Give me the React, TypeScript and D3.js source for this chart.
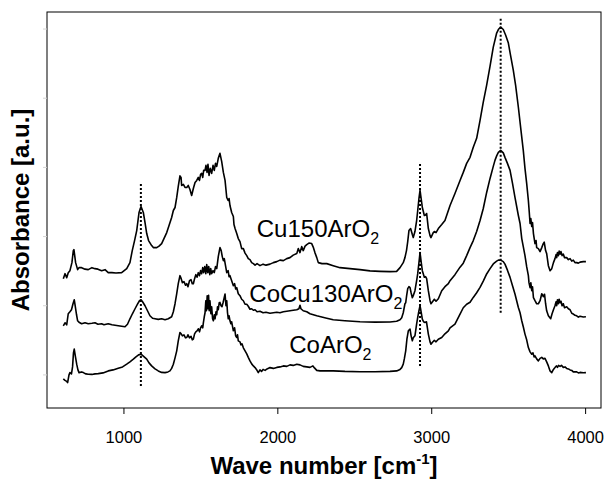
import React from "react";
import * as d3 from "d3";

// Wave number range and tick labels
const xDomain = [500, 4100];
const yDomain = [0, 3.95];
const xTicks = [1000, 2000, 3000, 4000];
const yMinorTicks = [0.33, 1.02, 1.71, 2.4, 3.09, 3.78];

// Cu150ArO2 spectrum [wave number, absorbance a.u.]
const cu150: [number, number][] = [
  [606, 1.29], [617, 1.34], [628, 1.3], [638, 1.35], [649, 1.37], [662, 1.45], [671, 1.57], [675, 1.58], [686, 1.45], [699, 1.38], [708, 1.4],
  [725, 1.4], [747, 1.385], [768, 1.38], [792, 1.4], [812, 1.39], [831, 1.385], [855, 1.37], [877, 1.38], [898, 1.35], [922, 1.35],
  [948, 1.347], [985, 1.35], [1018, 1.39], [1039, 1.45], [1054, 1.57], [1069, 1.67], [1083, 1.77], [1098, 1.95], [1111, 2.01],
  [1126, 1.95], [1137, 1.85], [1148, 1.74], [1160, 1.67], [1180, 1.62], [1191, 1.6], [1213, 1.6], [1228, 1.615], [1245, 1.64],
  [1260, 1.69], [1278, 1.75], [1293, 1.82], [1310, 1.9], [1321, 1.97], [1332, 2.0], [1343, 2.1], [1353, 2.21], [1364, 2.315],
  [1371, 2.3], [1375, 2.22], [1386, 2.23], [1397, 2.2], [1408, 2.2], [1418, 2.22], [1429, 2.18], [1440, 2.12], [1451, 2.19],
  [1462, 2.25], [1473, 2.27], [1483, 2.3], [1491, 2.27], [1498, 2.33], [1505, 2.34], [1512, 2.3], [1518, 2.37], [1527, 2.37],
  [1533, 2.42], [1540, 2.35], [1546, 2.43], [1553, 2.32], [1561, 2.39], [1570, 2.34], [1579, 2.42], [1587, 2.37], [1595, 2.44],
  [1603, 2.41], [1613, 2.49], [1624, 2.54], [1635, 2.46], [1646, 2.35], [1657, 2.27], [1668, 2.1], [1677, 2.07], [1683, 2.09],
  [1689, 2.02], [1700, 1.95], [1711, 1.91], [1715, 1.83], [1722, 1.79], [1733, 1.74], [1743, 1.69], [1754, 1.66], [1765, 1.59],
  [1776, 1.59], [1787, 1.545], [1798, 1.52], [1808, 1.49], [1819, 1.48], [1830, 1.45], [1841, 1.44], [1852, 1.425], [1865, 1.44],
  [1884, 1.42], [1904, 1.435], [1923, 1.425], [1949, 1.435], [1971, 1.45], [1993, 1.46], [2014, 1.475], [2036, 1.47], [2058, 1.49],
  [2079, 1.5], [2100, 1.525], [2123, 1.54], [2133, 1.59], [2144, 1.55], [2155, 1.61], [2165, 1.57], [2177, 1.615], [2188, 1.63],
  [2202, 1.645], [2220, 1.64], [2230, 1.605], [2241, 1.55], [2253, 1.5], [2263, 1.45], [2287, 1.44], [2318, 1.44], [2360, 1.42],
  [2404, 1.4], [2469, 1.39], [2534, 1.38], [2599, 1.368], [2664, 1.363], [2729, 1.36], [2772, 1.363], [2794, 1.4], [2815, 1.45],
  [2826, 1.5], [2836, 1.57], [2844, 1.66], [2852, 1.77], [2863, 1.79], [2874, 1.73], [2880, 1.7], [2891, 1.76], [2902, 1.87],
  [2909, 1.97], [2917, 2.09], [2924, 2.17], [2932, 2.08], [2939, 2.0], [2952, 1.92], [2960, 1.925], [2967, 1.94], [2978, 1.79],
  [2989, 1.72], [2995, 1.7], [3010, 1.75], [3017, 1.76], [3028, 1.75], [3043, 1.79], [3065, 1.83], [3086, 1.87], [3119, 2.02],
  [3151, 2.14], [3184, 2.27], [3205, 2.35], [3227, 2.44], [3249, 2.5], [3270, 2.6], [3292, 2.69], [3314, 2.87], [3335, 3.05],
  [3357, 3.22], [3379, 3.41], [3400, 3.6], [3422, 3.74], [3433, 3.775], [3448, 3.8], [3465, 3.775], [3480, 3.72], [3498, 3.64],
  [3512, 3.52], [3530, 3.37], [3545, 3.22], [3563, 3.0], [3580, 2.77], [3595, 2.57], [3606, 2.39], [3617, 2.24], [3628, 2.07],
  [3634, 1.95], [3639, 1.84], [3644, 1.89], [3650, 1.81], [3655, 1.85], [3661, 1.74], [3671, 1.64], [3678, 1.67], [3682, 1.6],
  [3693, 1.59], [3704, 1.56], [3715, 1.6], [3725, 1.64], [3731, 1.655], [3740, 1.57], [3747, 1.54], [3758, 1.42], [3769, 1.37],
  [3780, 1.39], [3791, 1.45], [3801, 1.49], [3808, 1.53], [3812, 1.5], [3817, 1.55], [3823, 1.52], [3828, 1.565], [3834, 1.535],
  [3840, 1.56], [3847, 1.52], [3855, 1.535], [3863, 1.5], [3877, 1.5], [3888, 1.48], [3899, 1.49], [3910, 1.465], [3920, 1.475],
  [3931, 1.45], [3942, 1.45], [3953, 1.445], [3964, 1.455], [3985, 1.46], [4002, 1.46],
];

// CoCu130ArO2 spectrum
const cocu130: [number, number][] = [
  [606, 0.82], [617, 0.85], [628, 0.83], [638, 0.94], [649, 0.96], [659, 0.98], [669, 1.04], [677, 1.08], [683, 1.02], [692, 0.93],
  [699, 0.87], [708, 0.855], [725, 0.84], [747, 0.85], [768, 0.84], [792, 0.845], [812, 0.85], [831, 0.835], [855, 0.84], [870, 0.83],
  [898, 0.84], [922, 0.83], [963, 0.82], [1007, 0.81], [1023, 0.835], [1039, 0.89], [1055, 0.94], [1072, 0.99], [1088, 1.035],
  [1101, 1.07], [1111, 1.08], [1121, 1.06], [1137, 1.02], [1153, 0.97], [1169, 0.92], [1186, 0.895], [1202, 0.89], [1223, 0.884],
  [1245, 0.89], [1267, 0.88], [1288, 0.89], [1310, 0.91], [1321, 0.96], [1332, 1.04], [1343, 1.14], [1353, 1.24], [1364, 1.32],
  [1372, 1.29], [1380, 1.25], [1390, 1.26], [1400, 1.225], [1408, 1.24], [1416, 1.21], [1426, 1.27], [1436, 1.28], [1444, 1.24],
  [1451, 1.24], [1459, 1.29], [1467, 1.33], [1475, 1.305], [1483, 1.35], [1491, 1.32], [1498, 1.37], [1505, 1.34], [1512, 1.4],
  [1518, 1.35], [1525, 1.41], [1532, 1.34], [1538, 1.43], [1545, 1.35], [1551, 1.41], [1558, 1.33], [1564, 1.39], [1570, 1.34],
  [1579, 1.37], [1587, 1.35], [1595, 1.41], [1603, 1.39], [1613, 1.51], [1624, 1.6], [1632, 1.57], [1639, 1.51], [1646, 1.47],
  [1652, 1.49], [1660, 1.42], [1668, 1.35], [1677, 1.37], [1683, 1.31], [1689, 1.32], [1700, 1.27], [1711, 1.22], [1719, 1.24],
  [1726, 1.187], [1733, 1.2], [1743, 1.14], [1754, 1.12], [1765, 1.085], [1776, 1.07], [1787, 1.035], [1798, 1.035], [1808, 1.015],
  [1819, 0.985], [1830, 0.99], [1841, 0.975], [1852, 0.98], [1865, 0.96], [1884, 0.965], [1904, 0.95], [1923, 0.955], [1949, 0.945],
  [1971, 0.95], [1993, 0.955], [2014, 0.95], [2036, 0.96], [2058, 0.965], [2079, 0.97], [2100, 0.975], [2123, 0.98], [2137, 0.99],
  [2144, 1.025], [2150, 0.99], [2165, 0.97], [2188, 0.96], [2209, 0.94], [2253, 0.92], [2318, 0.895], [2360, 0.88], [2436, 0.87],
  [2534, 0.86], [2631, 0.857], [2729, 0.858], [2772, 0.865], [2794, 0.88], [2805, 0.9], [2815, 0.95], [2826, 1.04], [2831, 1.05],
  [2837, 1.12], [2844, 1.19], [2852, 1.21], [2859, 1.2], [2866, 1.15], [2874, 1.1], [2880, 1.12], [2891, 1.17], [2902, 1.27],
  [2909, 1.34], [2917, 1.45], [2924, 1.55], [2932, 1.45], [2939, 1.37], [2952, 1.305], [2960, 1.31], [2967, 1.29], [2978, 1.17],
  [2989, 1.07], [2995, 1.04], [3005, 1.06], [3017, 1.085], [3028, 1.065], [3043, 1.09], [3065, 1.17], [3086, 1.21], [3108, 1.24],
  [3119, 1.27], [3151, 1.33], [3184, 1.405], [3205, 1.445], [3227, 1.52], [3249, 1.6], [3270, 1.67], [3292, 1.76], [3314, 1.87],
  [3335, 1.99], [3357, 2.15], [3379, 2.29], [3400, 2.41], [3411, 2.47], [3422, 2.515], [3433, 2.55], [3448, 2.57], [3465, 2.545],
  [3476, 2.5], [3492, 2.44], [3509, 2.37], [3525, 2.24], [3541, 2.1], [3563, 1.92], [3574, 1.84], [3585, 1.69], [3595, 1.61],
  [3606, 1.52], [3617, 1.41], [3628, 1.32], [3632, 1.25], [3639, 1.2], [3644, 1.25], [3650, 1.17], [3655, 1.21], [3661, 1.1],
  [3671, 1.07], [3682, 1.04], [3693, 1.04], [3704, 1.07], [3715, 1.14], [3725, 1.11], [3733, 1.135], [3740, 1.04], [3747, 0.97],
  [3758, 0.92], [3773, 0.89], [3782, 0.94], [3791, 0.98], [3801, 1.02], [3808, 1.06], [3812, 1.02], [3817, 1.08], [3823, 1.04],
  [3828, 1.085], [3834, 1.05], [3840, 1.065], [3847, 1.02], [3855, 1.04], [3863, 1.0], [3877, 1.01], [3888, 0.99], [3899, 0.98],
  [3910, 0.945], [3920, 0.937], [3931, 0.925], [3942, 0.92], [3953, 0.907], [3964, 0.915], [3985, 0.908], [4002, 0.91],
];

// CoArO2 spectrum
const coAr: [number, number][] = [
  [606, 0.29], [617, 0.275], [628, 0.265], [634, 0.253], [643, 0.33], [649, 0.353], [659, 0.34], [666, 0.41], [672, 0.55], [677, 0.587],
  [685, 0.51], [693, 0.437], [701, 0.38], [708, 0.353], [725, 0.36], [736, 0.353], [753, 0.34], [768, 0.337], [792, 0.335], [812, 0.34],
  [833, 0.343], [864, 0.35], [898, 0.37], [929, 0.38], [963, 0.397], [991, 0.41], [1018, 0.437], [1039, 0.46], [1061, 0.487],
  [1078, 0.51], [1095, 0.53], [1111, 0.537], [1124, 0.52], [1148, 0.487], [1163, 0.45], [1180, 0.42], [1202, 0.39], [1223, 0.37],
  [1245, 0.355], [1267, 0.353], [1286, 0.36], [1299, 0.37], [1310, 0.395], [1321, 0.437], [1332, 0.5], [1343, 0.57], [1353, 0.67],
  [1364, 0.753], [1372, 0.74], [1380, 0.72], [1390, 0.73], [1400, 0.7], [1408, 0.703], [1416, 0.73], [1426, 0.7], [1436, 0.715],
  [1444, 0.68], [1451, 0.687], [1459, 0.74], [1467, 0.76], [1475, 0.77], [1483, 0.79], [1491, 0.76], [1498, 0.8], [1505, 0.82],
  [1512, 0.8], [1516, 0.85], [1522, 0.91], [1527, 0.95], [1532, 1.07], [1536, 0.97], [1541, 1.12], [1545, 0.99], [1550, 1.125],
  [1554, 0.97], [1559, 1.07], [1565, 0.94], [1570, 1.01], [1576, 0.89], [1581, 0.87], [1587, 0.93], [1592, 0.89], [1598, 0.96],
  [1603, 0.93], [1608, 1.01], [1613, 0.98], [1619, 1.05], [1624, 1.053], [1631, 1.02], [1637, 1.01], [1644, 1.05], [1650, 1.09],
  [1657, 1.137], [1663, 1.02], [1668, 1.07], [1673, 0.95], [1678, 0.89], [1683, 0.92], [1689, 0.87], [1695, 0.84], [1700, 0.86],
  [1711, 0.77], [1719, 0.8], [1726, 0.72], [1733, 0.703], [1738, 0.73], [1743, 0.67], [1754, 0.66], [1760, 0.63], [1767, 0.64],
  [1776, 0.6], [1787, 0.57], [1798, 0.54], [1808, 0.505], [1819, 0.47], [1830, 0.44], [1841, 0.42], [1852, 0.403], [1861, 0.385],
  [1873, 0.353], [1884, 0.38], [1894, 0.365], [1904, 0.385], [1917, 0.375], [1930, 0.39], [1949, 0.403], [1971, 0.395], [1993, 0.405],
  [2014, 0.41], [2036, 0.42], [2058, 0.415], [2079, 0.43], [2100, 0.425], [2123, 0.437], [2144, 0.43], [2165, 0.415], [2188, 0.41],
  [2209, 0.405], [2228, 0.42], [2238, 0.4], [2253, 0.375], [2274, 0.37], [2318, 0.37], [2360, 0.37], [2436, 0.365], [2534, 0.362],
  [2631, 0.362], [2729, 0.365], [2772, 0.37], [2794, 0.385], [2805, 0.403], [2815, 0.437], [2822, 0.49], [2831, 0.57], [2839, 0.69],
  [2848, 0.77], [2859, 0.787], [2866, 0.72], [2874, 0.67], [2880, 0.7], [2891, 0.72], [2902, 0.84], [2909, 0.903], [2917, 0.97],
  [2924, 1.02], [2932, 0.95], [2939, 0.887], [2947, 0.86], [2956, 0.853], [2966, 0.86], [2978, 0.737], [2989, 0.66], [2995, 0.637],
  [3008, 0.66], [3017, 0.675], [3028, 0.66], [3043, 0.685], [3065, 0.703], [3086, 0.74], [3108, 0.77], [3119, 0.8], [3151, 0.837],
  [3184, 0.937], [3205, 1.0], [3227, 1.035], [3249, 1.055], [3270, 1.103], [3292, 1.15], [3314, 1.203], [3335, 1.265], [3357, 1.337],
  [3379, 1.39], [3400, 1.437], [3422, 1.465], [3433, 1.475], [3448, 1.475], [3465, 1.46], [3476, 1.435], [3492, 1.375], [3509, 1.303],
  [3525, 1.22], [3541, 1.137], [3563, 1.003], [3574, 0.95], [3585, 0.87], [3595, 0.81], [3606, 0.737], [3617, 0.68], [3628, 0.603],
  [3639, 0.56], [3650, 0.537], [3658, 0.55], [3665, 0.51], [3671, 0.52], [3682, 0.49], [3693, 0.47], [3704, 0.495], [3715, 0.505],
  [3725, 0.49], [3736, 0.495], [3747, 0.46], [3758, 0.42], [3769, 0.37], [3780, 0.353], [3791, 0.385], [3801, 0.403], [3810, 0.42],
  [3817, 0.405], [3824, 0.425], [3834, 0.415], [3843, 0.425], [3855, 0.405], [3866, 0.41], [3877, 0.395], [3888, 0.39], [3899, 0.38],
  [3910, 0.375], [3920, 0.36], [3942, 0.36], [3953, 0.35], [3964, 0.355], [3985, 0.352], [4002, 0.353],
];

const spectra = [cu150, cocu130, coAr];

// Dotted marker lines: wave number, lower and upper absorbance
const markerWave = [1110, 2924, 3448];
const markerLow = [0.22, 0.42, 0.95];
const markerHigh = [2.24, 2.44, 3.89];

// Series labels: main text, subscript, anchor wave number, anchor absorbance
const labelMain = ["Cu150ArO", "CoCu130ArO", "CoArO"];
const labelSub = ["2", "2", "2"];
const labelWave = [1863, 1815, 2074];
const labelAbs = [1.703, 1.053, 0.553];

const W = 607;
const H = 480;
const M = { left: 47, top: 12, right: 601, bottom: 408 };
const FONT = "'Liberation Sans', Arial, Helvetica, sans-serif";

export default function App() {
  const x = d3.scaleLinear().domain(xDomain).range([M.left, M.right]);
  const y = d3.scaleLinear().domain(yDomain).range([M.bottom, M.top]);
  const line = d3
    .line<[number, number]>()
    .x((d) => x(d[0]))
    .y((d) => y(d[1]));

  return (
    <svg
      width={W}
      height={H}
      style={{ position: "absolute", left: 0, top: 0, background: "#fff" }}
      fontFamily={FONT}
    >
      <rect x={0} y={0} width={W} height={H} fill="#fff" />
      {markerWave.map((w, i) => (
        <line
          key={"m" + i}
          x1={x(w)}
          x2={x(w)}
          y1={y(markerLow[i])}
          y2={y(markerHigh[i])}
          stroke="#000"
          strokeWidth={2}
          strokeDasharray="2 2"
        />
      ))}
      {spectra.map((s, i) => (
        <path
          key={"s" + i}
          d={line(s) || ""}
          fill="none"
          stroke="#000"
          strokeWidth={1.6}
          strokeLinejoin="round"
        />
      ))}
      {labelMain.map((t, i) => (
        <text
          key={"l" + i}
          x={x(labelWave[i])}
          y={y(labelAbs[i])}
          fontSize={24}
          fill="#000"
        >
          {t}
          <tspan fontSize={16} dy={7}>
            {labelSub[i]}
          </tspan>
        </text>
      ))}
      <rect
        x={M.left}
        y={M.top}
        width={M.right - M.left}
        height={M.bottom - M.top}
        fill="none"
        stroke="#000"
        strokeWidth={1}
      />
      {yMinorTicks.map((t, i) => (
        <line
          key={"yt" + i}
          x1={M.left - 4}
          x2={M.left}
          y1={y(t)}
          y2={y(t)}
          stroke="#d4d4d4"
          strokeWidth={1}
        />
      ))}
      {xTicks.map((t) => (
        <g key={"xt" + t}>
          <line x1={x(t)} x2={x(t)} y1={M.bottom} y2={M.bottom + 6} stroke="#000" strokeWidth={1} />
          <text x={x(t)} y={M.bottom + 35} textAnchor="middle" fontSize={16.5} fill="#000">
            {t}
          </text>
        </g>
      ))}
      <text
        x={(M.left + M.right) / 2}
        y={474}
        textAnchor="middle"
        fontSize={24}
        fontWeight="bold"
        fill="#000"
      >
        Wave number [cm
        <tspan fontSize={15} dy={-10}>
          -1
        </tspan>
        <tspan dy={10}>]</tspan>
      </text>
      <text
        transform={`translate(29, ${(M.top + M.bottom) / 2}) rotate(-90)`}
        textAnchor="middle"
        fontSize={24}
        fontWeight="bold"
        fill="#000"
      >
        Absorbance [a.u.]
      </text>
    </svg>
  );
}
